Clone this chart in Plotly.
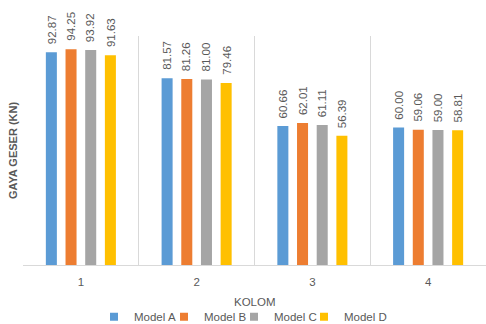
import plotly.graph_objects as go

categories = ["1", "2", "3", "4"]
series_names = ["Model A", "Model B", "Model C", "Model D"]
model_a = [92.87, 81.57, 60.66, 60.00]
model_b = [94.25, 81.26, 62.01, 59.06]
model_c = [93.92, 81.00, 61.11, 59.00]
model_d = [91.63, 79.46, 56.39, 58.81]
colors = ["#5B9BD5", "#ED7D31", "#A5A5A5", "#FFC000"]

FONT = "Liberation Sans"
GRAY = "#595959"
BARGAP = 0.32
BARGROUPGAP = 0.44

series = [model_a, model_b, model_c, model_d]
n = len(series)
slot = (1 - BARGAP) / n  # width of one bar slot, in category units

fig = go.Figure()
for name, vals, col in zip(series_names, series, colors):
    fig.add_trace(go.Bar(
        x=categories, y=vals, name=name, legendgroup=name, showlegend=False,
        marker=dict(color=col, line=dict(width=0)),
    ))
for name, col in zip(series_names, colors):
    fig.add_trace(go.Scatter(
        x=[None], y=[None], name=name, legendgroup=name, mode="markers",
        marker=dict(symbol="square", size=8, color=col),
    ))
fig.add_trace(go.Scatter(
    x=[None], y=[None], name="\u00a0", mode="markers",
    marker=dict(symbol="square", size=8, color="rgba(0,0,0,0)"),
))

# rotated value labels above each bar
annotations = []
for si, vals in enumerate(series):
    for ci, v in enumerate(vals):
        annotations.append(dict(
            x=ci + (si - (n - 1) / 2) * slot, xref="x", y=v, yref="y",
            text=f"{v:.2f}", textangle=-90, showarrow=False,
            xanchor="center", yanchor="bottom", yshift=6,
            font=dict(family=FONT, size=11.5, color=GRAY),
        ))
annotations.append(dict(
    text="KOLOM", x=0.5, xref="paper", y=(265 - 302) / 229, yref="paper",
    xanchor="center", yanchor="middle", showarrow=False,
    font=dict(family=FONT, size=11.5, color=GRAY),
))

fig.update_layout(
    width=486, height=324,
    margin=dict(l=23, r=0, t=36, b=59, autoexpand=False),
    paper_bgcolor="white", plot_bgcolor="white",
    barmode="group", bargap=BARGAP, bargroupgap=BARGROUPGAP,
    font=dict(family=FONT, color=GRAY, size=11),
    showlegend=True,
    annotations=annotations,
    legend=dict(orientation="h", x=94 / 486, xanchor="left", xref="container",
                y=0.022, yanchor="middle", yref="container",
                font=dict(size=11.5, color=GRAY), traceorder="normal",
                itemwidth=30, entrywidth=25, entrywidthmode="pixels"),
    xaxis=dict(
        type="category", range=[-0.5, 3.5],
        showgrid=True, tickson="boundaries", gridcolor="#D9D9D9", gridwidth=1,
        showline=True, linecolor="#D9D9D9", linewidth=1,
        ticks="", ticklen=0, ticklabelstandoff=6,
        tickfont=dict(size=11.5, color=GRAY),
    ),
    yaxis=dict(
        range=[0, 100], showgrid=False, zeroline=False, showticklabels=False,
        showline=False, ticks="",
        title=dict(text="<b>GAYA GESER (KN)</b>", font=dict(size=11, color=GRAY), standoff=2),
    ),
)

fig.write_html("out.html")
